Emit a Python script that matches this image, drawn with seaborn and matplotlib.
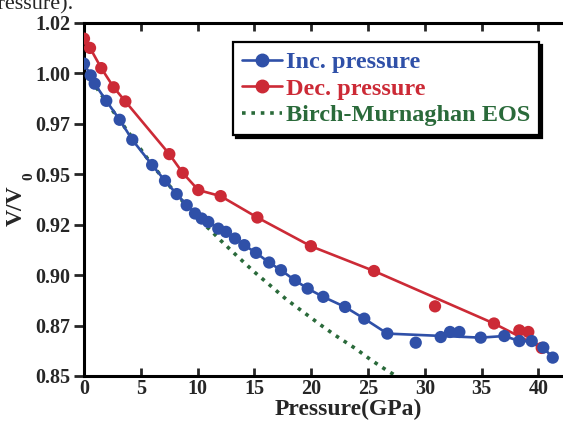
import numpy as np
import pandas as pd
import matplotlib
matplotlib.use('Agg')
import matplotlib.pyplot as plt
import seaborn as sns
from matplotlib.lines import Line2D

# Increasing pressure run (markers)
inc_pressure = [0, 0.59, 0.94, 1.96, 3.14, 4.25, 6.0, 7.13, 8.16, 9.04, 9.77, 10.36,
                10.94, 11.82, 12.5, 13.29, 14.11, 15.14, 16.3, 17.34, 18.57, 19.69,
                21.06, 22.98, 24.67, 26.7, 29.2, 31.4, 32.22, 33.04, 34.92, 37.0,
                38.32, 39.41, 40.43, 41.26]
inc_volume = [1.0047, 0.9989, 0.9948, 0.9863, 0.9769, 0.967, 0.9545, 0.9467, 0.9401,
              0.9346, 0.9305, 0.928, 0.9263, 0.923, 0.9214, 0.9181, 0.9148, 0.911,
              0.9062, 0.9024, 0.8974, 0.8933, 0.8892, 0.8842, 0.8784, 0.871, 0.8665,
              0.8693, 0.8718, 0.8718, 0.869, 0.8698, 0.8673, 0.8673, 0.8641, 0.8591]
# points the guide curve does not pass through
inc_off_curve = [29.2, 31.4, 32.22, 33.04]

# Decreasing pressure run
dec_pressure = [0, 0.53, 1.52, 2.61, 3.64, 7.51, 8.69, 10.06, 12.03, 15.26, 19.97,
                25.53, 30.9, 36.09, 38.32, 39.11, 40.29]
dec_volume = [1.0171, 1.0125, 1.0025, 0.993, 0.986, 0.9599, 0.9506, 0.9421, 0.9391,
              0.9285, 0.9143, 0.902, 0.8845, 0.876, 0.8726, 0.8718, 0.8639]
dec_off_curve = [30.9, 38.32, 39.11]

# Birch-Murnaghan EOS curve
bm_pressure = [0, 1.2, 2.0, 4.0, 6.0, 8.0, 10.0, 11.2, 12.0, 13.5, 15.0, 16.4, 17.8,
               19.3, 20.9, 22.1, 23.9, 25.3, 26.65, 27.4, 28.0]
bm_volume = [1.0, 0.992, 0.9855, 0.970, 0.9545, 0.941, 0.928, 0.9219, 0.9173, 0.9093,
             0.9015, 0.8948, 0.888, 0.8817, 0.875, 0.8702, 0.8636, 0.8578, 0.8528,
             0.8503, 0.848]

y_ticks = [0.85, 0.875, 0.90, 0.925, 0.95, 0.975, 1.00, 1.025]
y_tick_labels = ['0.85', '0.87', '0.90', '0.92', '0.95', '0.97', '1.00', '1.02']
x_ticks = [0, 5, 10, 15, 20, 25, 30, 35, 40]

blue = '#2f50a8'
red = '#cc2a36'
green = '#2a6a3a'

sns.set_style('ticks')
plt.rcParams['font.family'] = ['Liberation Serif', 'DejaVu Serif']
plt.rcParams['font.weight'] = 'bold'

inc = pd.DataFrame({'P': inc_pressure, 'V': inc_volume})
dec = pd.DataFrame({'P': dec_pressure, 'V': dec_volume})
bm = pd.DataFrame({'P': bm_pressure, 'V': bm_volume})
inc_line = inc[~inc['P'].isin(inc_off_curve)]
dec_line = dec[~dec['P'].isin(dec_off_curve)]

fig = plt.figure(figsize=(5.63, 4.21), dpi=100)
ax = fig.add_axes([0.1492, 0.1069, 0.8576, 0.8392])

sns.lineplot(data=bm, x='P', y='V', ax=ax, color=green, lw=2.6,
             linestyle=(0, (1.0, 1.6)), sort=False, estimator=None)
sns.lineplot(data=dec_line, x='P', y='V', ax=ax, color=red, lw=1.9,
             sort=False, estimator=None)
sns.lineplot(data=inc_line, x='P', y='V', ax=ax, color=blue, lw=1.9,
             sort=False, estimator=None)
sns.scatterplot(data=dec, x='P', y='V', ax=ax, color=red, s=78,
                edgecolor='none', zorder=3)
sns.scatterplot(data=inc, x='P', y='V', ax=ax, color=blue, s=78,
                edgecolor='none', zorder=4)

ax.set_xlim(0, 42.5)
ax.set_ylim(0.85, 1.025)
ax.set_xticks(x_ticks)
ax.set_yticks(y_ticks)
ax.set_yticklabels(y_tick_labels)
ax.tick_params(axis='x', direction='in', top=True, length=6, width=2,
               labelsize=14.5, pad=2)
ax.tick_params(axis='y', direction='out', length=7, width=2, labelsize=14.5, pad=3)
for side in ['left', 'bottom', 'top', 'right']:
    ax.spines[side].set_linewidth(2.2)
    ax.spines[side].set_color('black')

ax.set_xlabel('Pressure(GPa)', fontsize=17, fontweight='bold')
ax.xaxis.set_label_coords(0.547, -0.0635)
ax.set_ylabel('')

# y label: "V/V" with a detached subscript 0, as in the original figure
fig.text(27 / 563, 1 - 206 / 421, 'V/V', rotation=90, fontsize=17,
         fontweight='bold', ha='right', va='center')
fig.text(29 / 563, 1 - 176 / 421, '0', rotation=90, fontsize=11,
         fontweight='bold', ha='center', va='center')

handles = [
    Line2D([], [], color=blue, lw=1.9, marker='o', markersize=9),
    Line2D([], [], color=red, lw=1.9, marker='o', markersize=9),
    Line2D([], [], color=green, lw=2.6, linestyle=(0, (1.0, 1.6))),
]
labels = ['Inc. pressure', 'Dec. pressure', 'Birch-Murnaghan EOS']
leg = ax.legend(handles, labels, loc='upper left', bbox_to_anchor=(0.3086, 0.9454),
                fontsize=17.5, frameon=True, fancybox=False,
                shadow={'color': 'black', 'alpha': 1.0},
                handlelength=1.65, handletextpad=0.15, borderpad=0.38,
                labelspacing=0.18, borderaxespad=0)
leg.get_frame().set_edgecolor('black')
leg.get_frame().set_linewidth(1.6)
for txt, col in zip(leg.get_texts(), [blue, red, green]):
    txt.set_color(col)
    txt.set_fontweight('bold')

fig.text(73 / 563, 1 - 9 / 421, '(pressure).', fontsize=16, fontweight='normal',
         ha='right', va='baseline')

fig.savefig('out.png', dpi=100)
